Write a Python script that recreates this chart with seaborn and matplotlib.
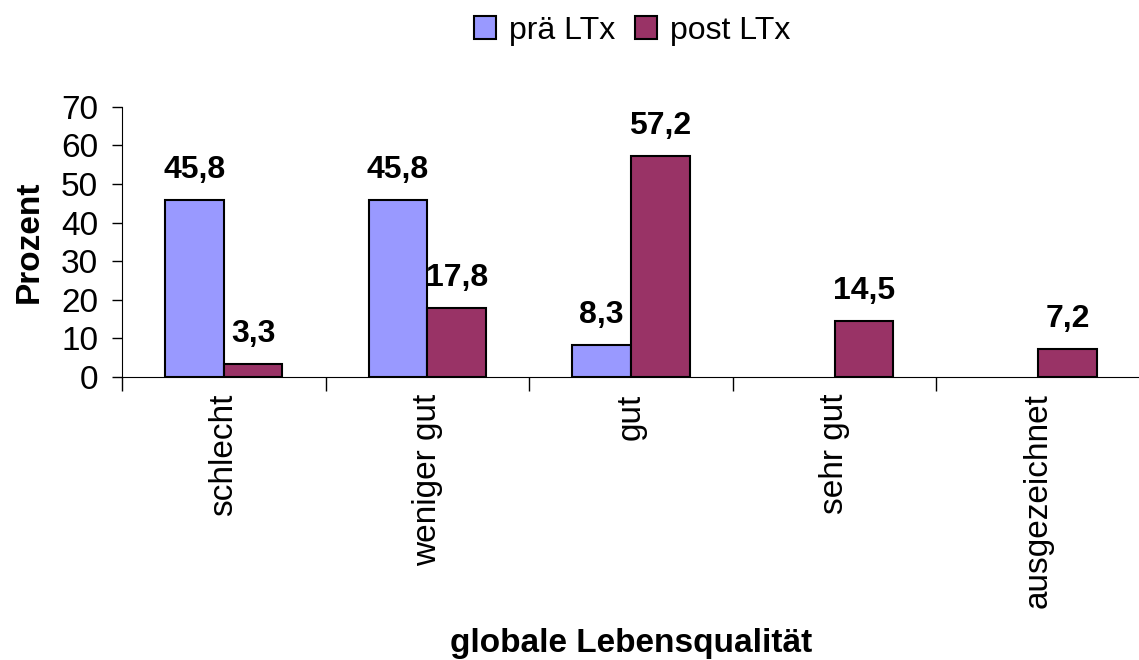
import numpy as np
import pandas as pd
import seaborn as sns
import matplotlib.pyplot as plt

# Daten
kategorien = ["schlecht", "weniger gut", "gut", "sehr gut", "ausgezeichnet"]
prae_ltx = [45.8, 45.8, 8.3, np.nan, np.nan]
post_ltx = [3.3, 17.8, 57.2, 14.5, 7.2]
gruppen = ["prä LTx", "post LTx"]
farben = ["#9999FF", "#993366"]
y_ticks = [0, 10, 20, 30, 40, 50, 60, 70]

df = pd.DataFrame({
    "kategorie": kategorien * 2,
    "gruppe": [gruppen[0]] * len(kategorien) + [gruppen[1]] * len(kategorien),
    "prozent": prae_ltx + post_ltx,
})

sns.set_style("white")
plt.rcParams["font.family"] = ["Liberation Sans", "DejaVu Sans"]
plt.rcParams.update({"text.color": "black", "axes.labelcolor": "black",
                     "xtick.color": "black", "ytick.color": "black"})

fs = 24
fig = plt.figure(figsize=(11.39, 6.6), dpi=100)
ax = fig.add_axes([0.107, 0.429, 0.894, 0.409])

sns.barplot(data=df, x="kategorie", y="prozent", hue="gruppe",
            order=kategorien, hue_order=gruppen, palette=farben,
            width=0.575, edgecolor="black", linewidth=1.5,
            saturation=1, errorbar=None, legend=True, ax=ax)

# Wertebeschriftung
for cont in ax.containers:
    labels = ["" if np.isnan(v) else f"{v:.1f}".replace(".", ",") for v in cont.datavalues]
    ax.bar_label(cont, labels=labels, padding=11, fontsize=23, fontweight="bold")

ax.set_ylim(0, 70)
ax.set_yticks(y_ticks)
ax.set_xlim(-0.5, 4.5)
ax.tick_params(axis="y", labelsize=fs, length=7, width=1, direction="out", left=True, pad=10)
ax.tick_params(axis="x", labelsize=fs, length=0, rotation=90, pad=12)
ax.set_xticks(np.arange(-0.5, 5, 1), minor=True)
ax.tick_params(axis="x", which="minor", length=10, width=1, direction="out", bottom=True)

for s in ["top", "right"]:
    ax.spines[s].set_visible(False)
ax.spines["left"].set_color("black")
ax.spines["bottom"].set_color("black")

ax.set_ylabel("Prozent", fontsize=fs, fontweight="bold", labelpad=12)
ax.set_xlabel("globale Lebensqualität", fontsize=fs, fontweight="bold")
ax.xaxis.set_label_coords(0.5, -0.93)

handles, lbls = ax.get_legend_handles_labels()
ax.legend(handles, lbls, loc="upper center", bbox_to_anchor=(0.555, 1.02),
          bbox_transform=fig.transFigure, ncol=2, frameon=False, fontsize=23,
          handlelength=0.7, handleheight=0.7, handletextpad=0.4, columnspacing=0.6)

fig.savefig("out.png", dpi=100)
